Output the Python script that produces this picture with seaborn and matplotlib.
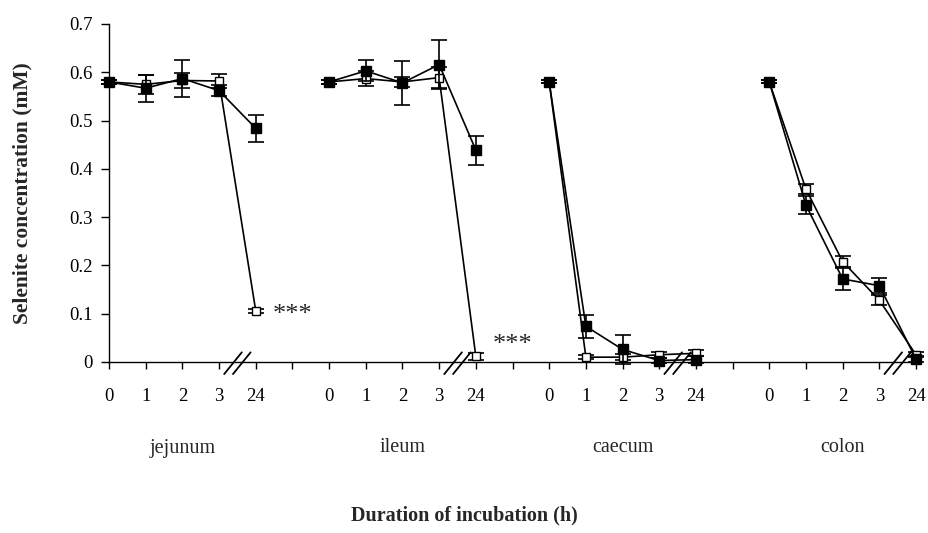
import numpy as np
import pandas as pd
import matplotlib
matplotlib.use("Agg")
import matplotlib.pyplot as plt
import matplotlib.transforms as mtransforms
import seaborn as sns

# ---------------- data ----------------
times = ["0", "1", "2", "3", "24"]
groups = ["jejunum", "ileum", "caecum", "colon"]

filled_jejunum = [0.580, 0.567, 0.587, 0.562, 0.484]
filled_ileum = [0.580, 0.603, 0.578, 0.616, 0.439]
filled_caecum = [0.580, 0.074, 0.026, 0.003, 0.005]
filled_colon = [0.580, 0.325, 0.172, 0.158, 0.006]

filled_err_jejunum = [0.004, 0.028, 0.038, 0.012, 0.028]
filled_err_ileum = [0.004, 0.022, 0.045, 0.050, 0.030]
filled_err_caecum = [0.003, 0.024, 0.030, 0.006, 0.008]
filled_err_colon = [0.003, 0.018, 0.022, 0.015, 0.006]

open_jejunum = [0.580, 0.575, 0.583, 0.582, 0.106]
open_ileum = [0.580, 0.587, 0.580, 0.589, 0.012]
open_caecum = [0.580, 0.010, 0.010, 0.015, 0.018]
open_colon = [0.580, 0.358, 0.208, 0.128, 0.015]

open_err_jejunum = [0.004, 0.020, 0.015, 0.014, 0.004]
open_err_ileum = [0.004, 0.015, 0.010, 0.022, 0.007]
open_err_caecum = [0.003, 0.004, 0.006, 0.006, 0.006]
open_err_colon = [0.003, 0.010, 0.012, 0.010, 0.005]

significance = {"jejunum": "***", "ileum": "***"}

y_ticks = [0, 0.1, 0.2, 0.3, 0.4, 0.5, 0.6, 0.7]
y_tick_labels = ["0", "0.1", "0.2", "0.3", "0.4", "0.5", "0.6", "0.7"]

filled_vals = [filled_jejunum, filled_ileum, filled_caecum, filled_colon]
filled_errs = [filled_err_jejunum, filled_err_ileum, filled_err_caecum, filled_err_colon]
open_vals = [open_jejunum, open_ileum, open_caecum, open_colon]
open_errs = [open_err_jejunum, open_err_ileum, open_err_caecum, open_err_colon]

# build long table: each group occupies 5 categories followed by one blank slot
rows = []
for gi, g in enumerate(groups):
    for ti, t in enumerate(times):
        pos = gi * (len(times) + 1) + ti
        rows.append(dict(group=g, time=t, pos=pos, series="open",
                         value=open_vals[gi][ti], err=open_errs[gi][ti]))
        rows.append(dict(group=g, time=t, pos=pos, series="filled",
                         value=filled_vals[gi][ti], err=filled_errs[gi][ti]))
df = pd.DataFrame(rows)

# ---------------- style ----------------
sns.set_theme(style="ticks")
plt.rcParams["font.family"] = ["Liberation Serif", "DejaVu Serif"]

W, H = 929, 533
fig = plt.figure(figsize=(W / 100, H / 100), dpi=100)
ax = fig.add_axes([109 / W, 1 - 362 / H, (916 - 109) / W, (362 - 24) / H])

series_style = {
    "open": dict(markerfacecolor="white", markeredgecolor="black", markersize=6.2, zorder=3),
    "filled": dict(markerfacecolor="black", markeredgecolor="black", markersize=7.2, zorder=4),
}

for s in ["open", "filled"]:
    for g in groups:
        sub = df[(df.series == s) & (df.group == g)]
        st = series_style[s]
        ax.errorbar(sub.pos, sub.value, yerr=sub.err, fmt="none", ecolor="black",
                    elinewidth=1.2, capsize=6, capthick=1.2, zorder=st["zorder"] - 0.5,
                    clip_on=False)
        sns.lineplot(data=sub, x="pos", y="value", ax=ax, color="black", linewidth=1.2,
                     marker="s", markerfacecolor=st["markerfacecolor"],
                     markeredgecolor=st["markeredgecolor"], markeredgewidth=1.0,
                     markersize=st["markersize"], zorder=st["zorder"], clip_on=False,
                     estimator=None, legend=False)

n_slots = len(groups) * (len(times) + 1) - 1
ax.set_xlim(0, n_slots - 1)
ax.set_ylim(0, 0.7)

xt = list(range(n_slots))
xl = []
for p in xt:
    k = p % (len(times) + 1)
    xl.append(times[k] if k < len(times) else "")
ax.set_xticks(xt)
ax.set_xticklabels(xl)
ax.set_yticks(y_ticks)
ax.set_yticklabels(y_tick_labels)

ax.tick_params(axis="x", direction="out", length=5, width=1, pad=14, labelsize=13.5, colors="black")
ax.tick_params(axis="y", direction="out", length=6, width=1, pad=6, labelsize=13.5, colors="black")
for side in ["top", "right"]:
    ax.spines[side].set_visible(False)
for side in ["left", "bottom"]:
    ax.spines[side].set_color("black")
    ax.spines[side].set_linewidth(1.0)
ax.set_xlabel("")
ax.set_ylabel("")

# axis break marks between "3" and "24" in each group
for gi in range(len(groups)):
    xb = gi * (len(times) + 1) + 3.5
    for off in (-0.12, 0.12):
        ax.plot([xb + off - 0.24, xb + off + 0.24], [-0.025, 0.02], color="black",
                lw=1.3, clip_on=False, zorder=6)

# significance stars (offset in points from the 24 h open marker)
star_offsets = {"jejunum": (12, -3), "ileum": (12, 8)}
for gi, g in enumerate(groups):
    if g in significance:
        pos = gi * (len(times) + 1) + len(times) - 1
        val = open_vals[gi][-1]
        ax.annotate(significance[g], xy=(pos, val), xytext=star_offsets[g],
                    textcoords="offset points", ha="left", va="center", fontsize=19,
                    annotation_clip=False)

# group labels
trans = mtransforms.blended_transform_factory(ax.transData, fig.transFigure)
for gi, g in enumerate(groups):
    center = gi * (len(times) + 1) + 2
    fig.text(center, 1 - 448 / H, g, transform=trans, ha="center", va="center", fontsize=14.5)

fig.text(0.5, 1 - 515 / H, "Duration of incubation (h)", ha="center", va="center",
         fontsize=14.5, fontweight="bold")
fig.text(22 / W, 1 - 193 / H, "Selenite concentration (mM)", ha="center", va="center",
         rotation=90, fontsize=15.5, fontweight="bold")

fig.savefig("out.png", dpi=100)
